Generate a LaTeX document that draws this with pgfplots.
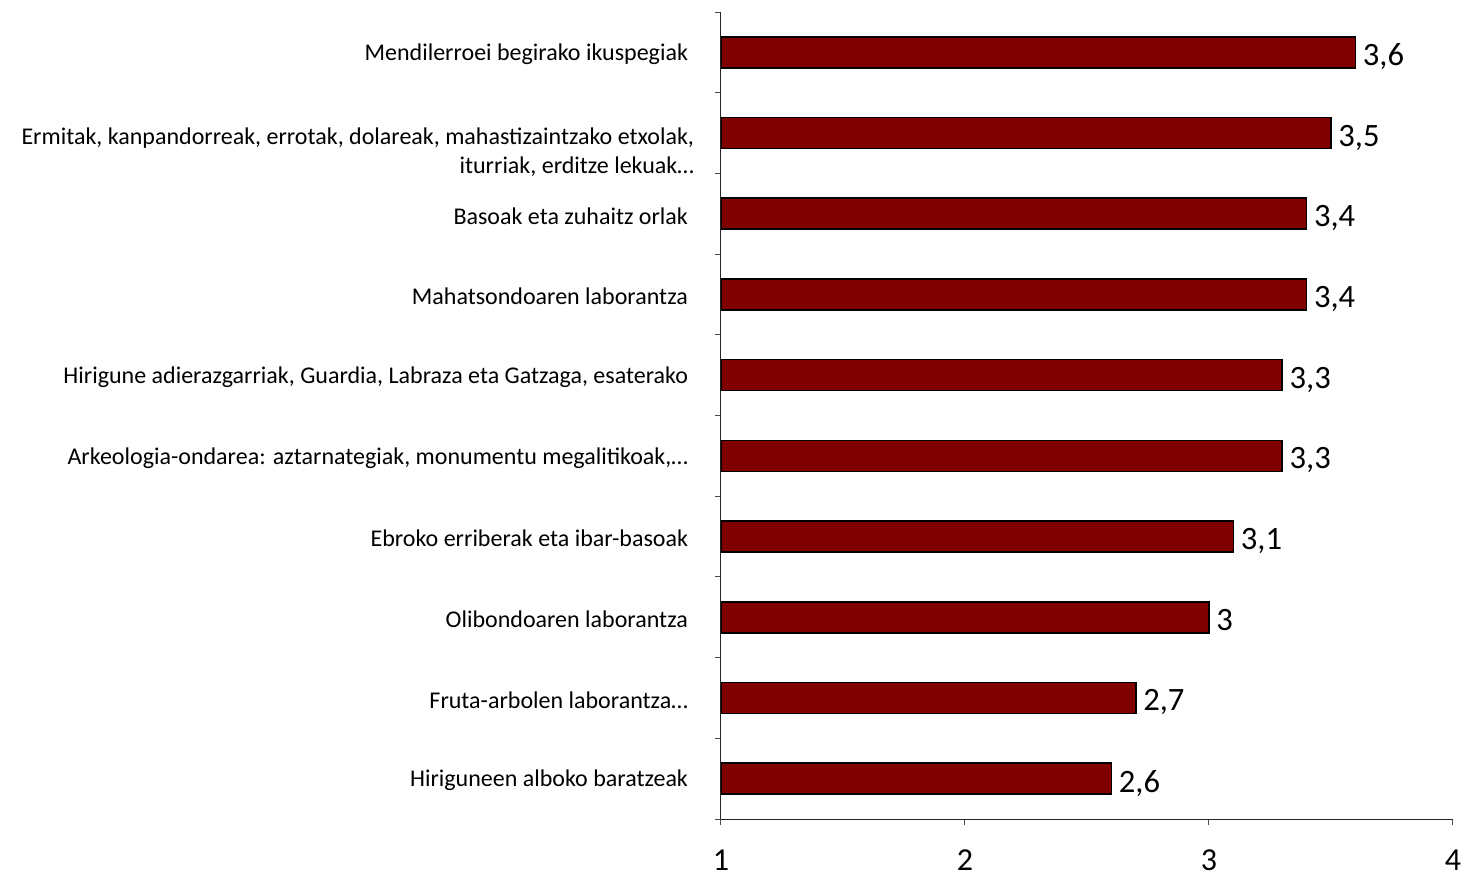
\documentclass[border=0pt]{standalone}
\usepackage{pgfplots}
\pgfplotsset{compat=1.18}
\usepackage{fontspec}
\setmainfont{Carlito}
\definecolor{barred}{HTML}{800000}
\newcommand\ermitak{Ermitak, kanpandorreak, errotak, dolareak, mahastizaintzako etxolak,\\iturriak, erditze lekuak…}
\begin{document}
\begin{tikzpicture}
\path[use as bounding box] (-360.5pt,-30.5pt) rectangle (372.5pt,409.5pt);
\begin{axis}[
  at={(0pt,0pt)}, anchor=south west,
  scale only axis, width=366pt, height=403.5pt,
  xbar, bar width=15.5pt,
  xmin=1, xmax=4, xtick={1,2,3,4},
  ymin=0.5, ymax=10.5, y dir=reverse,
  ytick={1,...,10},
  yticklabels={
    {Mendilerroei begirako ikuspegiak},
    {},
    {Basoak eta zuhaitz orlak},
    {Mahatsondoaren laborantza},
    {Hirigune adierazgarriak, Guardia, Labraza eta Gatzaga, esaterako},
    {Arkeologia-ondarea: aztarnategiak, monumentu megalitikoak,…},
    {Ebroko erriberak eta ibar-basoak},
    {Olibondoaren laborantza},
    {Fruta-arbolen laborantza…},
    {Hiriguneen alboko baratzeak}},
  extra y ticks={2},
  extra y tick labels={\ermitak},
  extra y tick style={major tick length=0pt, yticklabel style={yshift=-8.5pt}},
  major y tick style={draw=none},
  minor ytick={0.5,1.5,...,10.5},
  minor tick length=3pt, major tick length=3pt,
  tick align=outside,
  axis x line*=bottom, axis y line*=left,
  axis line style={black!85, line width=0.5pt},
  tick style={black!70, line width=0.5pt},
  /pgf/number format/assume math mode=true,
  xticklabel style={font=\fontsize{16}{18}\selectfont, yshift=-9pt},
  yticklabel style={font=\fontsize{12}{14.5}\selectfont, align=right, xshift=-10pt, yshift=-1pt},
  nodes near coords,
  nodes near coords style={font=\fontsize{16.3}{18}\selectfont, text depth=0pt, yshift=-1.2pt, /pgf/number format/use comma, /pgf/number format/precision=1},
]
\addplot[fill=barred, draw=black, line width=0.8pt] coordinates {
  (3.6,1) (3.5,2) (3.4,3) (3.4,4) (3.3,5) (3.3,6) (3.1,7) (3.0,8) (2.7,9) (2.6,10)
};
\end{axis}
\end{tikzpicture}
\end{document}
